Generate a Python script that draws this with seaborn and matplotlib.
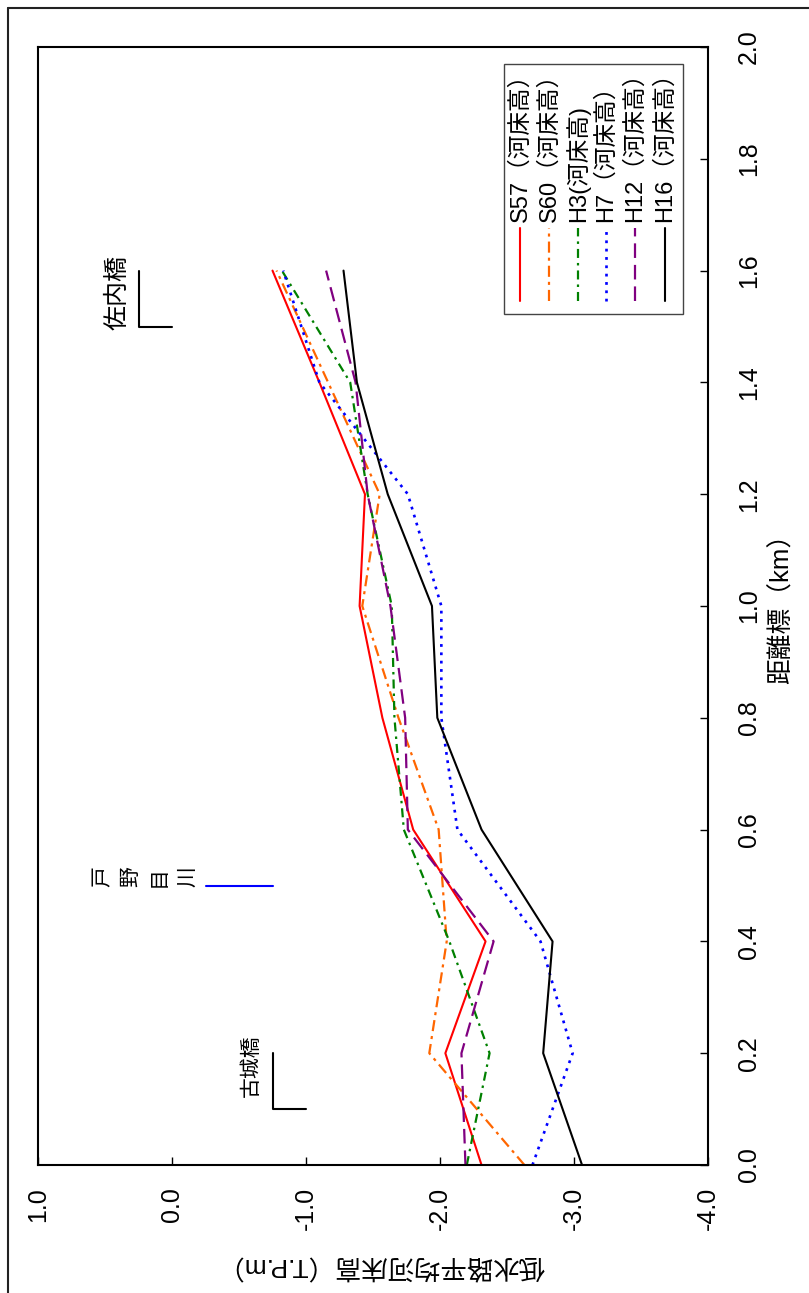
import numpy as np
import pandas as pd
import matplotlib
matplotlib.use("Agg")
import matplotlib.pyplot as plt
import seaborn as sns
from matplotlib.lines import Line2D
from matplotlib.patches import Rectangle

# ---------------- data ----------------
distance_km = [0.0, 0.2, 0.4, 0.6, 0.8, 1.0, 1.2, 1.4, 1.6]
s57 = [-2.31, -2.04, -2.34, -1.80, -1.57, -1.40, -1.44, -1.10, -0.75]
s60 = [-2.63, -1.92, -2.05, -1.99, -1.69, -1.42, -1.55, -1.165, -0.78]
h3 = [-2.20, -2.37, -2.07, -1.73, -1.66, -1.64, -1.46, -1.33, -0.82]
h7 = [-2.69, -2.99, -2.75, -2.13, -2.01, -2.01, -1.76, -1.10, -0.83]
h12 = [-2.19, -2.16, -2.40, -1.76, -1.74, -1.63, -1.46, -1.37, -1.15]
h16 = [-3.06, -2.77, -2.84, -2.31, -1.98, -1.94, -1.61, -1.38, -1.28]

series_names = ["S57（河床高）", "S60（河床高）", "H3(河床高)",
                "H7（河床高）", "H12（河床高）", "H16（河床高）"]
series_values = [s57, s60, h3, h7, h12, h16]

elev_ticks = [1.0, 0.0, -1.0, -2.0, -3.0, -4.0]
elev_tick_labels = ["1.0", "0.0", "-1.0", "-2.0", "-3.0", "-4.0"]
dist_ticks = [0.0, 0.2, 0.4, 0.6, 0.8, 1.0, 1.2, 1.4, 1.6, 1.8, 2.0]
dist_tick_labels = ["0.0", "0.2", "0.4", "0.6", "0.8", "1.0",
                    "1.2", "1.4", "1.6", "1.8", "2.0"]

x_label = "低水路平均河床高（T.P.m）"
y_label = "距離標（km）"

# annotation positions (elevation, distance)
bridge_sanai = ([0.25, 0.25, 0.0], [1.6, 1.5, 1.5])
bridge_furushiro = ([-0.75, -0.75, -1.0], [0.2, 0.1, 0.1])
river_tonome = ([-0.25, -0.75], [0.5, 0.5])

# ---------------- styles ----------------
colors = ["#ff0000", "#ff6600", "#008000", "#0000ff", "#800080", "#000000"]
linestyles = ["-",
              (0, (8.0, 3.6, 2.2, 3.6)),
              (0, (6.5, 3.6, 1.8, 3.6)),
              (0, (2.0, 4.0)),
              (0, (10.5, 5.0)),
              "-"]
linewidths = [1.5, 1.6, 1.6, 1.9, 1.6, 1.5]

sns.set_theme(style="white")
plt.rcParams["font.family"] = ["Liberation Sans", "Noto Sans CJK JP", "DejaVu Sans"]
plt.rcParams["lines.scale_dashes"] = False

fig = plt.figure(figsize=(8.09, 12.93), dpi=100)
ax = fig.add_axes([38 / 809, 1 - 1165 / 1293, 670 / 809, 1118 / 1293])

rows = []
for name, vals in zip(series_names, series_values):
    for d, v in zip(distance_km, vals):
        rows.append({"series": name, "distance": d, "elevation": v})
df = pd.DataFrame(rows)

for name, c, ls, lw in zip(series_names, colors, linestyles, linewidths):
    sub = df[df["series"] == name]
    sns.lineplot(data=sub, x="elevation", y="distance", orient="y",
                 estimator=None, color=c, linestyle=ls, linewidth=lw,
                 ax=ax, legend=False)

ax.set_xlim(1.0, -4.0)
ax.set_ylim(0.0, 2.0)

ax.set_xticks(elev_ticks, elev_tick_labels)
ax.yaxis.tick_right()
ax.set_yticks(dist_ticks, dist_tick_labels)
ax.tick_params(axis="both", direction="in", length=6, width=1.0,
               color="black", labelsize=18, labelcolor="black",
               labelrotation=90)
ax.tick_params(axis="x", bottom=True, top=False, pad=16)
ax.tick_params(axis="y", right=True, left=False, pad=21)
for lbl in ax.get_yticklabels():
    lbl.set_va("center")

for sp in ax.spines.values():
    sp.set_color("black")
    sp.set_linewidth(1.5)

ax.set_xlabel(x_label, fontsize=19, color="black")
ax.xaxis.label.set(rotation=180, va="center", ha="center")
ax.xaxis.set_label_coords(0.512, -0.0894)

ax.yaxis.set_label_position("right")
ax.set_ylabel(y_label, fontsize=18.5, color="black")
ax.yaxis.label.set(rotation=90, va="center", ha="center", rotation_mode="default")
ax.yaxis.set_label_coords(1.110, 0.503)

# annotations
ax.plot(*bridge_sanai, color="black", lw=1.5)
ax.plot(*bridge_furushiro, color="black", lw=1.5)
ax.plot(*river_tonome, color="#0000ff", lw=1.5)
ax.text(0.41, 1.56, "佐内橋", rotation=90, fontsize=18, ha="center", va="center",
        color="black")
ax.text(-0.59, 0.177, "古城橋", rotation=90, fontsize=15, ha="center", va="center",
        color="black")
ax.text(0.20, 0.516, "戸\n野\n目\n川", rotation=90, fontsize=15,
        ha="center", va="center", linespacing=1.62, color="black")

# rotated legend (manual, axes coordinates)
ax.add_patch(Rectangle((0.6955, 0.7612), 0.9627 - 0.6955, 0.9848 - 0.7612,
                       transform=ax.transAxes, fill=False,
                       edgecolor="#444444", lw=1.0, zorder=5))
leg_x = [0.7194, 0.7627, 0.8060, 0.8478, 0.8910, 0.9358]
for xpos, name, c, ls, lw in zip(leg_x, series_names, colors, linestyles, linewidths):
    ax.add_line(Line2D([xpos, xpos], [0.7728, 0.8381], transform=ax.transAxes,
                       color=c, linestyle=ls, linewidth=lw, zorder=6))
    ax.text(xpos, 0.8435, name, transform=ax.transAxes, rotation=90,
            ha="center", va="bottom", fontsize=17, color="black", zorder=6)

# figure border
fig.add_artist(Line2D([8 / 809, 8 / 809], [0.0, 1 - 8 / 1293],
                      transform=fig.transFigure, color="#222222", lw=1.5))
fig.add_artist(Line2D([8 / 809, 1.0], [1 - 8 / 1293, 1 - 8 / 1293],
                      transform=fig.transFigure, color="#222222", lw=1.5))

fig.savefig("out.png", dpi=100)
